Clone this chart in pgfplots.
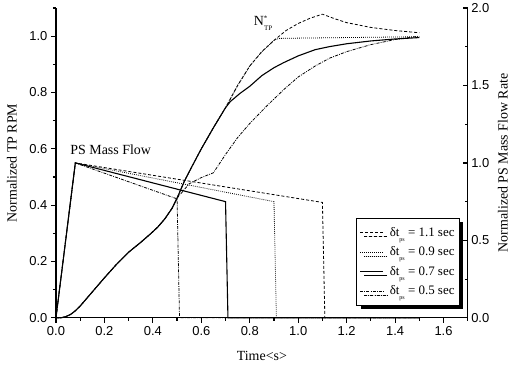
\documentclass[border=0pt]{standalone}
\usepackage{pgfplots}
\pgfplotsset{compat=1.18}
\usepackage{fontspec}
\setmainfont{Liberation Serif}
\newfontfamily\ticksf{Liberation Sans}
\usetikzlibrary{shadows}

\pgfplotsset{
  common/.style={
    scale only axis, width=412bp, height=310bp,
    xmin=0, xmax=1.7,
    clip=false,
    axis line style={-, line width=1.3bp},
    tick style={line width=1.2bp, black},
    major tick length=5bp, minor tick length=3bp,
    ticklabel style={font=\ticksf\fontsize{13}{13}\selectfont},
    /pgf/number format/assume math mode=true,
    /pgf/number format/.cd, fixed, fixed zerofill, precision=1, /pgfplots/.cd,
    label style={font=\fontsize{14}{15}\selectfont},
  },
  dsh/.style={black, line width=0.8bp, dash pattern=on 3bp off 2bp},
  dtt/.style={black, line width=0.8bp, dash pattern=on 0.8bp off 1.2bp},
  sld/.style={black, line width=1.1bp},
  ddt/.style={black, line width=0.8bp, dash pattern=on 3bp off 1.2bp on 0.8bp off 1.2bp},
}

\begin{document}
\begin{tikzpicture}
\begin{axis}[common,
  ymin=0, ymax=1.1,
  axis x line*=bottom, axis y line*=left,
  tick align=outside,
  xtick={0,0.2,0.4,0.6,0.8,1.0,1.2,1.4,1.6},
  minor xtick={0.1,0.3,0.5,0.7,0.9,1.1,1.3,1.5,1.7},
  ytick={0,0.2,0.4,0.6,0.8,1.0},
  minor ytick={0.1,0.3,0.5,0.7,0.9,1.1},
  xlabel={Time<s>},
  xlabel style={at={(rel axis cs:0.5,-0.122)}, anchor=center},
  ylabel={Normalized TP RPM},
  ylabel style={at={(rel axis cs:-0.107,0.5)}, anchor=center},
]
% N_TP, dt = 1.1
\addplot[dsh] coordinates {(0,0)(0.02,0)(0.04,0.004)(0.06,0.012)(0.08,0.025)(0.1,0.042)(0.12,0.062)(0.15,0.092)(0.2,0.142)(0.25,0.19)(0.3,0.233)(0.35,0.268)(0.39,0.298)(0.42,0.322)(0.45,0.352)(0.48,0.39)(0.5,0.425)(0.53,0.485)(0.56,0.535)(0.6,0.60)(0.65,0.675)(0.7,0.746)(0.75,0.825)(0.8,0.894)(0.85,0.945)(0.9,0.985)(0.95,1.02)(1.0,1.045)(1.05,1.064)(1.1,1.078)(1.15,1.062)(1.2,1.048)(1.3,1.031)(1.4,1.02)(1.5,1.012)};
% dt = 0.9
\addplot[dtt] coordinates {(0,0)(0.02,0)(0.04,0.004)(0.06,0.012)(0.08,0.025)(0.1,0.042)(0.12,0.062)(0.15,0.092)(0.2,0.142)(0.25,0.19)(0.3,0.233)(0.35,0.268)(0.39,0.298)(0.42,0.322)(0.45,0.352)(0.48,0.39)(0.5,0.425)(0.53,0.485)(0.56,0.535)(0.6,0.60)(0.65,0.675)(0.7,0.746)(0.75,0.825)(0.8,0.894)(0.85,0.945)(0.9,0.985)(0.92,0.992)(1.0,0.993)(1.2,0.995)(1.4,0.997)(1.5,0.998)};
% dt = 0.7
\addplot[sld] coordinates {(0,0)(0.02,0)(0.04,0.004)(0.06,0.012)(0.08,0.025)(0.1,0.042)(0.12,0.062)(0.15,0.092)(0.2,0.142)(0.25,0.19)(0.3,0.233)(0.35,0.268)(0.39,0.298)(0.42,0.322)(0.45,0.352)(0.48,0.39)(0.5,0.425)(0.53,0.485)(0.56,0.535)(0.6,0.60)(0.65,0.675)(0.7,0.746)(0.72,0.768)(0.76,0.797)(0.8,0.822)(0.85,0.86)(0.9,0.888)(0.94,0.906)(1.0,0.93)(1.07,0.952)(1.13,0.963)(1.2,0.973)(1.3,0.983)(1.4,0.99)(1.5,0.995)};
% dt = 0.5
\addplot[ddt] coordinates {(0,0)(0.02,0)(0.04,0.004)(0.06,0.012)(0.08,0.025)(0.1,0.042)(0.12,0.062)(0.15,0.092)(0.2,0.142)(0.25,0.19)(0.3,0.233)(0.35,0.268)(0.39,0.298)(0.42,0.322)(0.45,0.352)(0.48,0.39)(0.5,0.425)(0.55,0.476)(0.6,0.498)(0.65,0.515)(0.7,0.58)(0.75,0.64)(0.8,0.69)(0.87,0.752)(0.94,0.81)(1.0,0.855)(1.07,0.894)(1.13,0.922)(1.2,0.945)(1.3,0.97)(1.4,0.988)(1.5,1.0)};
\node[font=\fontsize{14}{15}\selectfont] at (axis cs:0.226,0.598) {PS Mass Flow};
\node[font=\fontsize{14}{15}\selectfont] at (axis cs:0.855,1.046) {N\raisebox{0.8ex}{\fontsize{7}{7}\selectfont *}\hspace{-3.2bp}\raisebox{-0.7ex}{\fontsize{7}{7}\selectfont TP}};
\end{axis}
\begin{axis}[common,
  ymin=0, ymax=2.0,
  axis x line=none, axis y line*=right,
  tick align=inside,
  ytick={0,0.5,1.0,1.5,2.0},
  minor ytick={0.25,0.75,1.25,1.75},
  ylabel={Normalized PS Mass Flow Rate},
  ylabel style={at={(rel axis cs:1.085,0.5)}, anchor=center},
  legend cell align=left,
  legend image code/.code={\draw[#1] (0bp,0bp) -- (23bp,0bp);},
  legend style={at={(rel axis cs:0.981,0.039)}, anchor=south east,
    draw=black, line width=0.9bp, fill=white,
    drop shadow={shadow xshift=4bp, shadow yshift=-4bp, fill=black, opacity=1},
    /tikz/every odd column/.append style={column sep=4bp},
    font=\fontsize{13}{14}\selectfont, row sep=5bp, inner xsep=3bp, inner ysep=7bp},
]
\addplot[dsh] coordinates {(0,0)(0.08,1.0)(1.1,0.745)(1.11,0)(1.5,0)};
\addlegendentry{δt\raisebox{-0.8ex}{\fontsize{6}{6}\selectfont ps} = 1.1 sec}
\addplot[dtt] coordinates {(0,0)(0.08,1.0)(0.9,0.75)(0.91,0)(1.5,0)};
\addlegendentry{δt\raisebox{-0.8ex}{\fontsize{6}{6}\selectfont ps} = 0.9 sec}
\addplot[sld] coordinates {(0,0)(0.08,1.0)(0.7,0.75)(0.71,0)(1.5,0)};
\addlegendentry{δt\raisebox{-0.8ex}{\fontsize{6}{6}\selectfont ps} = 0.7 sec}
\addplot[ddt] coordinates {(0,0)(0.08,1.0)(0.5,0.768)(0.51,0)(1.5,0)};
\addlegendentry{δt\raisebox{-0.8ex}{\fontsize{6}{6}\selectfont ps} = 0.5 sec}
\path (rel axis cs:-0.1359,-0.1548) rectangle (rel axis cs:1.1044,1.0258);
\end{axis}
\end{tikzpicture}
\end{document}
